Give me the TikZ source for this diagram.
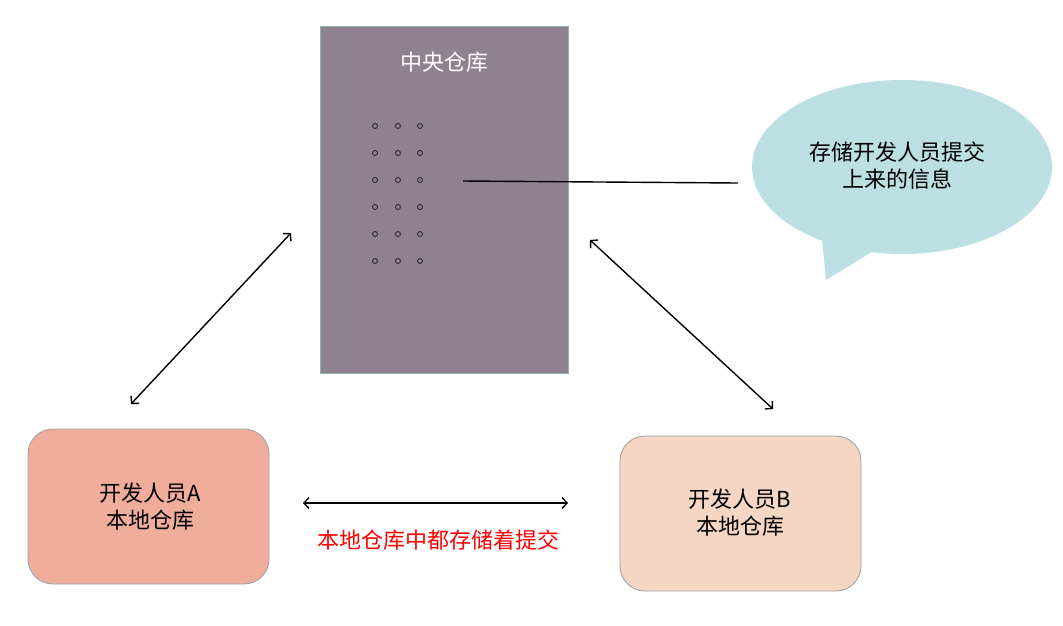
\documentclass[tikz,border=0pt]{standalone}
\usepackage{fontspec}
\newfontfamily\cjk{Noto Sans CJK SC}
\usetikzlibrary{arrows.meta,shapes.geometric}
\definecolor{centralfill}{HTML}{8F828F}
\definecolor{centralborder}{HTML}{8FB0B0}
\definecolor{calloutfill}{HTML}{BBDFE3}
\definecolor{afill}{HTML}{F0AD9C}
\definecolor{bfill}{HTML}{F5D6C2}
\definecolor{boxborder}{HTML}{9AA5A5}
\definecolor{dotcol}{HTML}{2E2A35}
\tikzset{
  txt/.style={font=\cjk\fontsize{22}{27}\selectfont, align=center, inner sep=0pt},
  localbox/.style={draw=boxborder, line width=0.9pt, rounded corners=25pt, minimum width=241pt, minimum height=155pt, inner sep=0pt},
  dotmark/.style={circle, draw=dotcol, line width=0.9pt, minimum size=5pt, inner sep=0pt},
  biarrow/.style={{Straight Barb[length=5pt,width=11pt]}-{Straight Barb[length=5pt,width=11pt]}, line width=1.4pt, black},
}
\begin{document}
\begin{tikzpicture}[x=1pt,y=-1pt]
\useasboundingbox (0,0) rectangle (1063,625);
% central repository
\node[draw=centralborder, fill=centralfill, line width=0.9pt, minimum width=248pt, minimum height=347pt, inner sep=0pt] (central) at (444,199.5) {};
\node[txt, text=white] (ctitle) at (444,62) {中央仓库};
% dots
\foreach \r [count=\i] in {126,153,180,207,234,261}{
  \foreach \c [count=\j] in {375,398,420}{
    \node[dotmark] (d\i\j) at (\c,\r) {};
  }
}
% callout
\fill[calloutfill] (822,238) -- (826,280) -- (875,250) -- cycle;
\node[ellipse, fill=calloutfill, minimum width=300pt, minimum height=174pt, inner sep=0pt] (callout) at (902,167) {};
\node[txt] (ctext) at (897,166) {存储开发人员提交\\上来的信息};
\coordinate (lstart) at (463,181);
\coordinate (lend) at (738,183);
\draw[line width=1.4pt] (lstart) -- (lend);
% local boxes
\node[localbox, fill=afill] (boxA) at (148.5,506.5) {};
\node[txt] (textA) at (150,507) {开发人员A\\本地仓库};
\node[localbox, fill=bfill] (boxB) at (740.5,513.5) {};
\node[txt] (textB) at (740,513) {开发人员B\\本地仓库};
% arrows
\coordinate (a1) at (131,404);
\coordinate (a2) at (291,233);
\coordinate (b1) at (590,240);
\coordinate (b2) at (773,409);
\coordinate (h1) at (303,503);
\coordinate (h2) at (568,503);
\draw[biarrow] (a1) -- (a2);
\draw[biarrow] (b1) -- (b2);
\draw[biarrow] (h1) -- (h2);
\node[txt, text=red] (redtext) at (438,540) {本地仓库中都存储着提交};
\end{tikzpicture}
\end{document}
